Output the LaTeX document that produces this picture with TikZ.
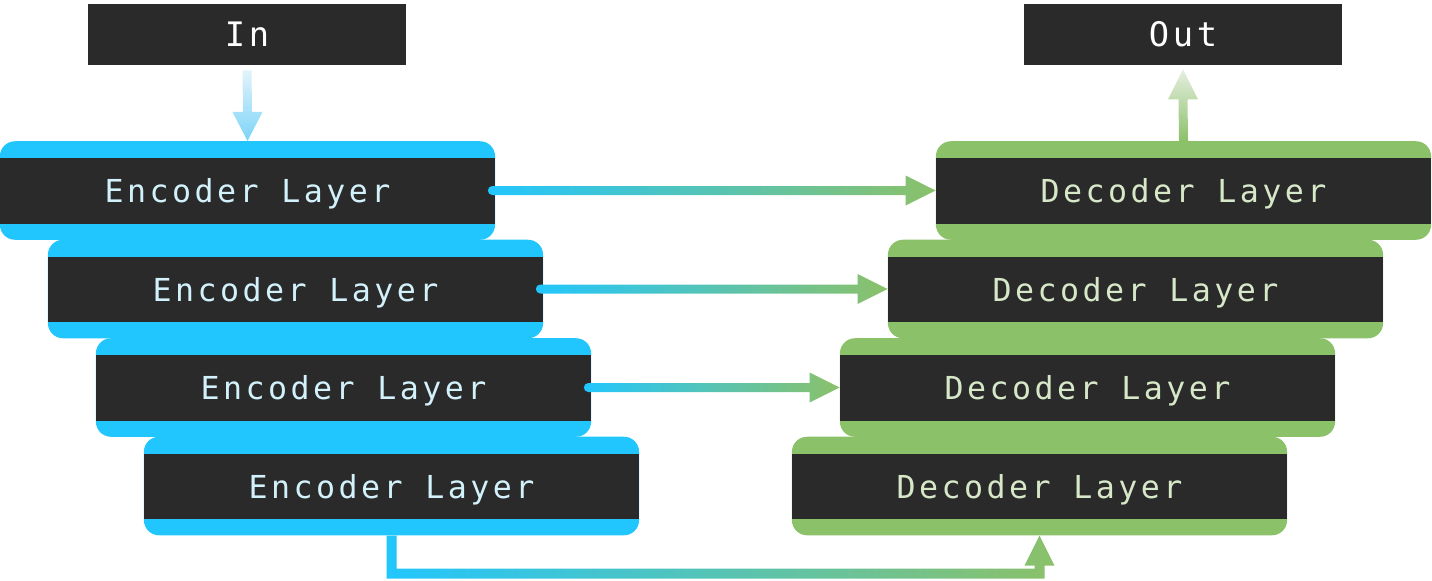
\documentclass[tikz,border=0pt]{standalone}
\usepackage{fontspec}
\usetikzlibrary{calc}
\newfontfamily\layerfont{DejaVu Sans Mono}[LetterSpace=11]
\definecolor{enccyan}{HTML}{22C6FE}
\definecolor{decgreen}{HTML}{8BC169}
\definecolor{band}{HTML}{2A2A2A}
\definecolor{enctext}{HTML}{D2F1FB}
\definecolor{dectext}{HTML}{D6E8C8}
\definecolor{inlight}{HTML}{E2F3FA}
\definecolor{inarrow}{HTML}{7CD4F8}
\definecolor{outlight}{HTML}{E6EEE0}

\tikzset{
  layer/.style={rounded corners=0.375cm, minimum width=12.375cm,
    minimum height=2.4625cm, inner sep=0pt, text depth=0pt,
    font=\layerfont\fontsize{22.5}{27}\selectfont,
    path picture={\fill[band, sharp corners] ([yshift=-0.42cm]path picture bounding box.north west)
      rectangle ([yshift=0.4cm]path picture bounding box.south east);}},
  enc/.style={layer, fill=enccyan, text=enctext},
  dec/.style={layer, fill=decgreen, text=dectext},
  io/.style={fill=band, text=white, minimum width=7.95cm, minimum height=1.525cm,
    inner sep=0pt, font=\layerfont\fontsize{24}{28}\selectfont},
}

% gradient arrow from an encoder to the decoder beside it
\newcommand\skiparrow[2]{%
  \shade[left color=enccyan, right color=decgreen]
    ($(#1.east)+(-3,-4.5)$) -- ($(#1.east -| #2.west)+(-30,-4.5)$)
    -- ($(#1.east -| #2.west)+(-30,-15)$) -- (#1.east -| #2.west)
    -- ($(#1.east -| #2.west)+(-30,15)$) -- ($(#1.east -| #2.west)+(-30,4.5)$)
    -- ($(#1.east)+(-3,4.5)$) arc[start angle=90, end angle=270, radius=4.5] -- cycle;}

\begin{document}
\begin{tikzpicture}[x=0.025cm, y=-0.025cm]
  \useasboundingbox (0,0) rectangle (1432,580);

  \node[io] (in) at (247,34.5) {In};
  \node[io] (out) at (1183,34.5) {Out};

  \foreach \i in {1,...,4} {
    \node[enc] (e\i) at ({247.5+48*(\i-1)}, {190.5+98.5*(\i-1)}) {Encoder Layer};
    \node[dec] (d\i) at ({1183.5-48*(\i-1)}, {190.5+98.5*(\i-1)}) {Decoder Layer};
  }

  % input and output
  \shade[top color=inlight, bottom color=inarrow]
    ($(in.south)+(-4.5,5)$) -- ($(e1.north)+(-4.5,-29)$) -- ($(e1.north)+(-15,-29)$)
    -- (e1.north) -- ($(e1.north)+(15,-29)$) -- ($(e1.north)+(4.5,-29)$)
    -- ($(in.south)+(4.5,5)$) -- cycle;
  \shade[top color=outlight, bottom color=decgreen]
    ($(d1.north)+(-4.5,0)$) -- ($(out.south)+(-4.5,34)$) -- ($(out.south)+(-15,34)$)
    -- ($(out.south)+(0,4)$) -- ($(out.south)+(15,34)$) -- ($(out.south)+(4.5,34)$)
    -- ($(d1.north)+(4.5,0)$) -- cycle;

  % skip connections
  \foreach \i in {1,2,3}
    \skiparrow{e\i}{d\i};

  % bottom link
  \coordinate (busL) at ($(e4.south)+(0,38)$);
  \coordinate (busR) at (busL -| d4.south);
  \shade[left color=enccyan, right color=decgreen]
    ($(e4.south)+(-5,0)$) -- ($(busL)+(-5,5)$) -- ($(busR)+(5,5)$)
    -- ($(d4.south)+(5,30)$) -- ($(d4.south)+(15,30)$) -- (d4.south)
    -- ($(d4.south)+(-15,30)$) -- ($(d4.south)+(-5,30)$)
    -- ($(busR)+(-5,-5)$) -- ($(busL)+(5,-5)$) -- ($(e4.south)+(5,0)$) -- cycle;
\end{tikzpicture}
\end{document}
